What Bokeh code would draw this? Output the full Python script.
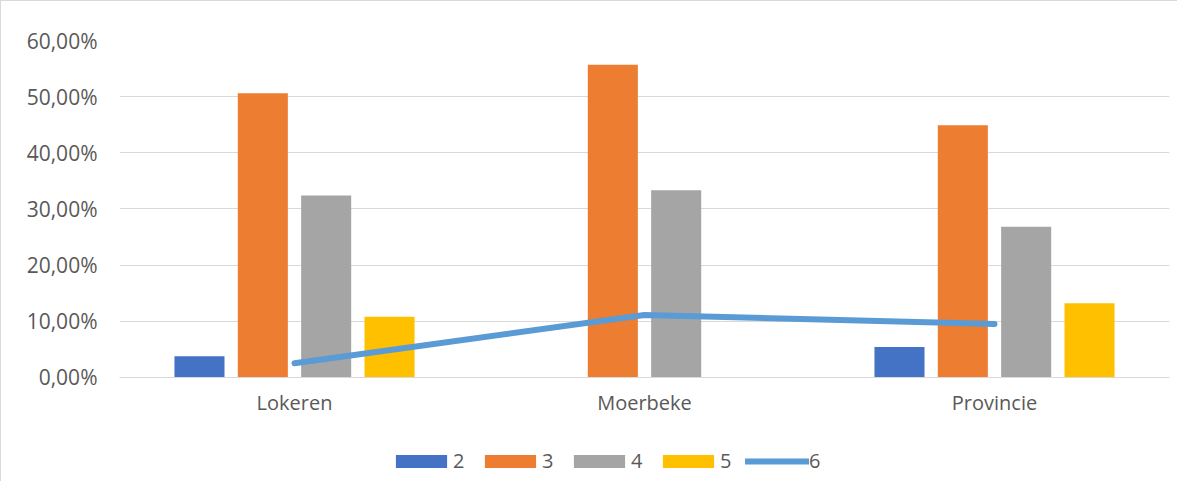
from bokeh.plotting import figure
from bokeh.models import (FactorRange, Range1d, FixedTicker, Legend, LegendItem,
                          ColumnDataSource)
from bokeh.transform import dodge
from bokeh.embed import file_html
from bokeh.resources import INLINE

categories = ["Lokeren", "Moerbeke", "Provincie"]
series_names = ["2", "3", "4", "5", "6"]
s2 = [0.0375, 0.0, 0.054]
s3 = [0.506, 0.557, 0.449]
s4 = [0.324, 0.333, 0.268]
s5 = [0.108, 0.0, 0.132]
s6 = [0.025, 0.111, 0.095]
y_ticks = [0.0, 0.1, 0.2, 0.3, 0.4, 0.5, 0.6]
y_tick_labels = ["0,00%", "10,00%", "20,00%", "30,00%", "40,00%", "50,00%", "60,00%"]

colors = ["#4472C4", "#ED7D31", "#A5A5A5", "#FFC000", "#5B9BD5"]
TEXT = "#595959"
FONT = "Open Sans"
FS = "20px"

src = ColumnDataSource(dict(cat=categories, s2=s2, s3=s3, s4=s4, s5=s5, s6=s6))

p = figure(x_range=FactorRange(*categories, range_padding=0),
           y_range=Range1d(-0.1875, 0.6),
           width=1177, height=481, output_backend="svg", toolbar_location=None,
           min_border_left=118, min_border_right=9, min_border_top=39, min_border_bottom=0)
p.styles = {"border-left": "1px solid #D9D9D9", "border-top": "1px solid #D9D9D9"}
p.outline_line_color = None
p.background_fill_color = "white"
p.border_fill_color = "white"

step = 0.181
bw = 0.143
offsets = [-1.5 * step, -0.5 * step, 0.5 * step, 1.5 * step]
renderers = []
for key, off, col in zip(["s2", "s3", "s4", "s5"], offsets, colors[:4]):
    r = p.vbar(x=dodge("cat", off, range=p.x_range), top=key, width=bw, source=src,
               fill_color=col, line_color=None)
    renderers.append(r)

lr = p.line(x="cat", y="s6", source=src, line_color=colors[4], line_width=6,
            line_cap="round", line_join="round")
renderers.append(lr)

# axes
p.yaxis.ticker = FixedTicker(ticks=y_ticks)
p.yaxis.major_label_overrides = {t: l for t, l in zip(y_ticks, y_tick_labels)}
p.yaxis.axis_line_color = None
p.yaxis.major_tick_line_color = None
p.yaxis.minor_tick_line_color = None
p.yaxis.major_tick_out = 0
p.yaxis.major_label_standoff = 22
p.yaxis.major_label_text_font = FONT
p.yaxis.major_label_text_font_size = "21px"
p.yaxis.major_label_text_color = TEXT

p.xaxis.fixed_location = 0
p.xaxis.axis_line_color = "#D9D9D9"
p.xaxis.axis_line_width = 1
p.xaxis.major_tick_line_color = None
p.xaxis.minor_tick_line_color = None
p.xaxis.major_tick_out = 0
p.xaxis.major_label_standoff = 12
p.xaxis.major_label_text_font = FONT
p.xaxis.major_label_text_font_size = FS
p.xaxis.major_label_text_color = TEXT

p.xgrid.grid_line_color = None
p.ygrid.ticker = FixedTicker(ticks=y_ticks)
p.ygrid.grid_line_color = "#D9D9D9"
p.ygrid.grid_line_width = 1

legend = Legend(items=[LegendItem(label=n, renderers=[r]) for n, r in zip(series_names, renderers)],
                orientation="horizontal", location=(270, 8),
                glyph_width=64, glyph_height=16, label_standoff=0, spacing=5,
                padding=0, margin=0, border_line_color=None, background_fill_alpha=0,
                label_text_font=FONT, label_text_font_size=FS, label_text_color=TEXT)
p.add_layout(legend)

open("out.html", "w").write(file_html(p, INLINE))
